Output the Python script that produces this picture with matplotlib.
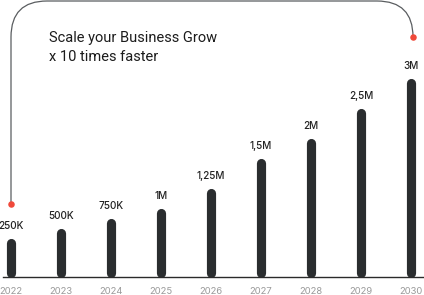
import matplotlib
matplotlib.use("Agg")
import matplotlib.pyplot as plt
from matplotlib.path import Path
from matplotlib.patches import PathPatch

# data
years = [2022, 2023, 2024, 2025, 2026, 2027, 2028, 2029, 2030]
bar_heights = [39, 49, 59, 69, 89, 119, 139, 169, 199]   # drawn height (px)
value_labels = ["250K", "500K", "750K", "1M", "1,25M", "1,5M", "2M", "2,5M", "3M"]
title_lines = ["Scale your Business Grow", "x 10 times faster"]

BAR = "#2a2d2f"
RED = "#f0493a"
W, H = 424, 295

plt.rcParams["font.family"] = ["Inter", "DejaVu Sans"]

fig = plt.figure(figsize=(W / 100, H / 100), dpi=100)
fig.patch.set_facecolor("white")

# main axes: years on x, bar heights (px) on y
ax = fig.add_axes([0, 0, 1, 1])
ax.set_xlim(2022 - 11 / 50, 2022 + (W - 11) / 50)
ax.set_ylim(-18, 277)
ax.axis("off")

cap = 4.5
for yr, h, lab in zip(years, bar_heights, value_labels):
    ax.plot([yr, yr], [cap, h - cap], color=BAR, lw=6.6,
            solid_capstyle="round", zorder=3)
    ax.text(yr, h + 12, lab, ha="center", va="center",
            fontsize=7.2, fontweight="medium", color="#222222")
    ax.text(yr, -14, str(yr), ha="center", va="center",
            fontsize=6.8, color="#9a9a9a")

ax.axhline(0, xmin=3 / W, xmax=1, color="#2a2a2a", lw=1.0, zorder=4)

# overlay in pixel coords for connector + title
ov = fig.add_axes([0, 0, 1, 1])
ov.set_xlim(0, W)
ov.set_ylim(H, 0)
ov.axis("off")
ov.patch.set_alpha(0)

x0, y0 = 11, 204
x1, y1 = 413, 37
r = 36
top = 1
verts = [(x0, y0), (x0, top + r),
         (x0, top), (x0 + r, top),
         (x1 - r, top),
         (x1, top), (x1, top + r),
         (x1, y1)]
codes = [Path.MOVETO, Path.LINETO,
         Path.CURVE3, Path.CURVE3,
         Path.LINETO,
         Path.CURVE3, Path.CURVE3,
         Path.LINETO]
ov.add_patch(PathPatch(Path(verts, codes), fill=False, ec="#5a5d60", lw=0.9))
ov.scatter([x0, x1], [y0, y1], s=22, color=RED, zorder=5, linewidths=0)

ov.text(49, 38, title_lines[0], ha="left", va="center", fontsize=10.5,
        family=["Roboto", "DejaVu Sans"], color="#1c1c1c")
ov.text(49, 57, title_lines[1], ha="left", va="center", fontsize=10.5,
        family=["Roboto", "DejaVu Sans"], color="#1c1c1c")

fig.savefig("out.png", dpi=100)
